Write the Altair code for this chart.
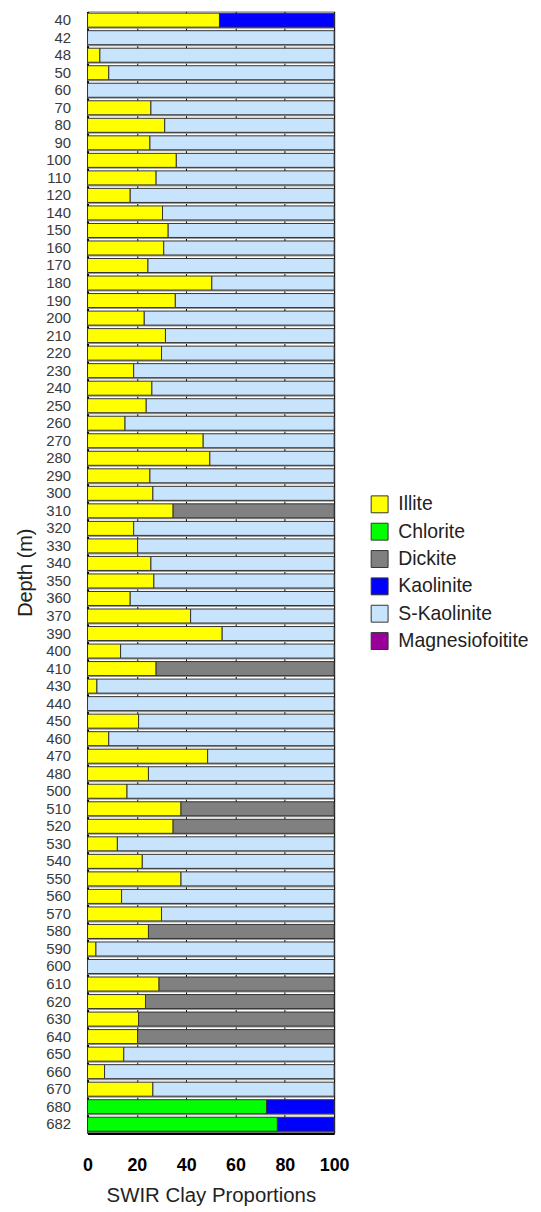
import altair as alt
import pandas as pd

depths = [40, 42, 48, 50, 60, 70, 80, 90, 100, 110, 120, 140, 150, 160, 170, 180,
          190, 200, 210, 220, 230, 240, 250, 260, 270, 280, 290, 300, 310, 320, 330,
          340, 350, 360, 370, 390, 400, 410, 430, 440, 450, 460, 470, 480, 500, 510,
          520, 530, 540, 550, 560, 570, 580, 590, 600, 610, 620, 630, 640, 650, 660,
          670, 680, 682]

illite = [53.5, 0, 5, 8.6, 0, 25.7, 31.3, 25.3, 36, 27.8, 17.3, 30.4, 32.7, 30.9, 24.5,
          50.4, 35.6, 23, 31.6, 30, 18.7, 26.1, 23.8, 15.2, 46.9, 49.6, 25.3, 26.5, 34.7,
          18.7, 20.3, 25.7, 26.9, 17.3, 41.8, 54.6, 13.4, 27.8, 3.8, 0, 20.7, 8.6, 48.7,
          24.7, 16, 37.9, 34.7, 12.1, 22.2, 37.9, 13.8, 30, 24.7, 3.4, 0, 29, 23.5, 20.7,
          20.3, 14.7, 6.9, 26.5, 0, 0]

# non-zero entries of the other minerals, by depth
chlorite = {680: 72.6, 682: 77.0}
kaolinite = {40: 46.5, 680: 27.4, 682: 23.0}
dickite = {310: 65.3, 410: 72.2, 510: 62.1, 520: 65.3, 580: 75.3,
           610: 71.0, 620: 76.5, 630: 79.3, 640: 79.7}

minerals = ["Illite", "Chlorite", "Dickite", "Kaolinite", "S-Kaolinite", "Magnesiofoitite"]
colors = ["#FFFF00", "#00FF00", "#808080", "#0000FF", "#C8E3FC", "#990099"]

rows = []
for i, d in enumerate(depths):
    il = illite[i]
    ch = chlorite.get(d, 0)
    dk = dickite.get(d, 0)
    ka = kaolinite.get(d, 0)
    sk = round(100 - il - ch - dk - ka, 2)
    for k, (m, v) in enumerate(zip(minerals[:5], [il, ch, dk, ka, sk])):
        if v > 0:
            rows.append({"Depth": str(d), "Mineral": m, "Value": v, "idx": k})
df = pd.DataFrame(rows)
base_df = pd.DataFrame({"Depth": [str(d) for d in depths], "lo": 0, "hi": 100})

ysort = [str(d) for d in depths]
yscale = alt.Scale(paddingInner=0.2, paddingOuter=0.1)

shadow = alt.Chart(base_df).mark_bar(color="#9a9a9a", yOffset=1.5).encode(
    y=alt.Y("Depth:N", sort=ysort, scale=yscale),
    x=alt.X("lo:Q"),
    x2="hi:Q",
)

bars = alt.Chart(df).mark_bar(stroke="#333333", strokeWidth=1).encode(
    y=alt.Y("Depth:N", sort=ysort, scale=yscale,
            axis=alt.Axis(title="Depth (m)", labelFontSize=15, labelColor="#3a3a3a",
                          labelFont="Liberation Sans", labelFontWeight="normal",
                          ticks=False, labelPadding=17,
                          titleFont="Liberation Sans", titleFontSize=20,
                          titleFontWeight="normal", titleColor="#222222",
                          titlePadding=10, domainColor="#000000", domainWidth=2)),
    x=alt.X("Value:Q", stack="zero",
            scale=alt.Scale(domain=[0, 100], nice=False),
            axis=alt.Axis(title="SWIR Clay Proportions", values=[0, 20, 40, 60, 80, 100],
                          labelFontSize=18, labelFontWeight="bold", labelColor="#000000",
                          labelFont="Liberation Sans", labelFlush=False,
                          ticks=False, labelPadding=24,
                          titleFont="Liberation Sans", titleFontSize=20.5,
                          titleFontWeight="normal", titleColor="#222222",
                          titlePadding=11, grid=True, gridColor="#000000",
                          gridWidth=1, domainColor="#000000", domainWidth=3)),
    color=alt.Color("Mineral:N",
                    scale=alt.Scale(domain=minerals, range=colors),
                    legend=alt.Legend(title=None, orient="none", legendX=284, legendY=486,
                                      symbolType="square", symbolSize=289,
                                      symbolStrokeColor="#333333", symbolStrokeWidth=1,
                                      labelFont="Liberation Sans", labelFontSize=19.5,
                                      labelColor="#222222", labelOffset=9,
                                      rowPadding=5.5, values=minerals)),
    order=alt.Order("idx:Q", sort="ascending"),
)

chart = alt.layer(shadow, bars).properties(
    width=248, height=1128,
    autosize=alt.AutoSizeParams(type="none"),
    padding={"left": 80, "top": 0, "right": 200, "bottom": 70},
).configure_view(stroke="#888888", strokeWidth=1)

chart.save("out.html", embed_options={"renderer": "svg", "actions": False})
